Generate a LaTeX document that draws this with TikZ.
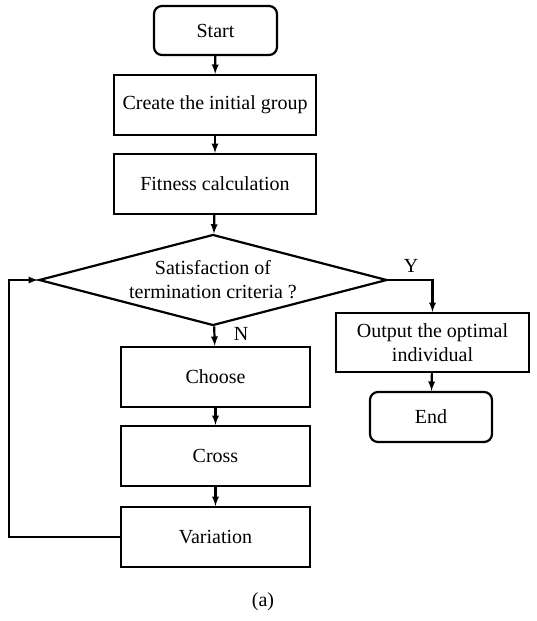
\documentclass[tikz,border=0pt]{standalone}
\usepackage{fontspec}
\setmainfont{Liberation Serif}
\usepackage{tikz}
\usetikzlibrary{arrows,shapes,calc}

\begin{document}
\begin{tikzpicture}[x=1pt,y=-1pt]
\tikzset{
	term node/.style = {rectangle, rounded corners = 8pt, draw, line width = 2.2pt, minimum width = 123pt, minimum height = 49pt, inner sep = 0, align = center, font = \fontsize{20}{24}\selectfont},
	step node/.style = {rectangle, draw, line width = 2.2pt, minimum width = 202pt, minimum height = 60pt, inner sep = 0, align = center, font = \fontsize{20}{24}\selectfont},
	test node/.style = {diamond, aspect = 3.82, draw, line width = 2.2pt, minimum width = 348pt, minimum height = 91pt, inner sep = 0, align = center, font = \fontsize{20}{24}\selectfont},
	flow/.style = {-latex, line width = 2.2pt},
	mark text/.style = {font = \fontsize{20}{24}\selectfont},
}
\useasboundingbox (0,0) rectangle (536,621);

\node(start)[term node] at (215.5,30.5) {Start};
\node(create)[step node] at (215,105) {Create the initial group};
\node(fitness)[step node] at (215,184) {Fitness calculation};
\node(decide)[test node] at (213,280) {Satisfaction of\\termination criteria ?};
\node(choose)[step node, minimum width = 189pt] at (215.5,377) {Choose};
\node(cross)[step node, minimum width = 189pt] at (215.5,456) {Cross};
\node(variation)[step node, minimum width = 189pt] at (215.5,537) {Variation};
\node(output)[step node, minimum width = 193pt, minimum height = 59pt] at (432.5,342.5) {Output the optimal\\individual};
\node(end)[term node, minimum width = 122pt, minimum height = 50pt] at (431,417) {End};
\node(yes)[mark text] at (411,266) {Y};
\node(no)[mark text] at (241,334) {N};
\node(caption)[mark text] at (263,602) {(a)};
\coordinate(loop) at (9,537);

\draw [flow] (start) to (create);
\draw [flow] (create) to (fitness);
\draw [flow] (fitness) to (decide);
\draw [flow] (decide) to (choose);
\draw [flow] (choose) to (cross);
\draw [flow] (cross) to (variation);
\draw [flow] (variation.west) to (loop) |- (decide.west);
\draw [flow] (decide.east) -| (output.north);
\draw [flow] (output) to (end);

\end{tikzpicture}
\end{document}
